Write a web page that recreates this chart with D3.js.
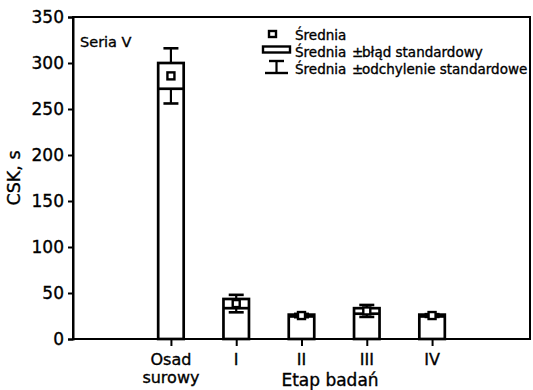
<!DOCTYPE html>
<html>
<head>
<meta charset="utf-8">
<script src="https://cdn.jsdelivr.net/npm/d3@7"></script>
<style>
  html, body { margin: 0; padding: 0; background: #fff; }
  svg { display: block; }
  text { font-family: "DejaVu Sans", "Liberation Sans", Arial, sans-serif; fill: #000; stroke: #000; stroke-width: 0.35px; }
</style>
</head>
<body>
<svg id="chart" width="533" height="390"></svg>
<script>
// Stages of the study and CSK statistics for each one
const categories = ["Osad surowy", "I", "II", "III", "IV"];
const means  = [286, 38.5, 25.5, 30.5, 25.5];   // średnia
const stdErr = [14, 5, 1, 3, 1];                // błąd standardowy
const stdDev = [30, 9.5, 1.8, 6.5, 1.5];        // odchylenie standardowe
const yTicks = [0, 50, 100, 150, 200, 250, 300, 350];

const svg = d3.select("#chart");
const plot = { left: 73, right: 530, top: 17, bottom: 339 };

const x = d3.scaleLinear().domain([-1.5, categories.length + 0.5]).range([plot.left, plot.right]);
const y = d3.scaleLinear().domain([0, 350]).range([plot.bottom, plot.top]);

const boxW = 25.5, capW = 15, markerS = 7, thick = 2.7;

// Frame
svg.append("rect")
  .attr("x", plot.left).attr("y", plot.top)
  .attr("width", plot.right - plot.left).attr("height", plot.bottom - plot.top)
  .attr("fill", "none").attr("stroke", "#000").attr("stroke-width", 2);

// Y axis
const yAxis = d3.axisLeft(y).tickValues(yTicks).tickSize(5).tickPadding(4).tickFormat(d3.format("d"));
const gy = svg.append("g").attr("transform", `translate(${plot.left},0)`).call(yAxis);
gy.select(".domain").attr("stroke-width", 2);
gy.selectAll(".tick line").attr("stroke-width", 2);
gy.selectAll(".tick text").attr("font-size", 17).attr("font-family", null).attr("fill", "#000");

// X axis
const xAxis = d3.axisBottom(x).tickValues(d3.range(categories.length)).tickSize(7).tickFormat(() => "");
const gx = svg.append("g").attr("transform", `translate(0,${plot.bottom})`).call(xAxis);
gx.select(".domain").remove();
gx.selectAll(".tick line").attr("stroke-width", 2);

// Category labels (split onto two lines where needed)
categories.forEach((c, i) => {
  c.split(" ").forEach((part, j) => {
    svg.append("text")
      .attr("x", x(i)).attr("y", 365 + j * 18)
      .attr("text-anchor", "middle")
      .attr("font-size", 16)
      .text(part);
  });
});

// Axis titles
svg.append("text")
  .attr("x", 330).attr("y", 386)
  .attr("text-anchor", "middle").attr("font-size", 17)
  .text("Etap badań");

svg.append("text")
  .attr("transform", `translate(20,${178}) rotate(-90)`)
  .attr("text-anchor", "middle").attr("font-size", 17.5)
  .text("CSK, s");

svg.append("text")
  .attr("x", 80).attr("y", 47)
  .attr("font-size", 14.5)
  .text("Seria V");

// Columns: outline from 0 to mean+SE, line at mean−SE, whiskers at mean±SD, mean marker
const g = svg.append("g").attr("stroke", "#000").attr("fill", "none");
categories.forEach((c, i) => {
  const cx = x(i);
  const m = means[i], se = stdErr[i], sd = stdDev[i];
  // whiskers
  g.append("line").attr("x1", cx).attr("x2", cx).attr("y1", y(m + se)).attr("y2", y(m + sd)).attr("stroke-width", 2.2);
  g.append("line").attr("x1", cx - capW / 2).attr("x2", cx + capW / 2).attr("y1", y(m + sd)).attr("y2", y(m + sd)).attr("stroke-width", 2.6);
  g.append("line").attr("x1", cx).attr("x2", cx).attr("y1", y(m - se)).attr("y2", y(m - sd)).attr("stroke-width", 2.2);
  g.append("line").attr("x1", cx - capW / 2).attr("x2", cx + capW / 2).attr("y1", y(m - sd)).attr("y2", y(m - sd)).attr("stroke-width", 2.6);
  // column outline
  g.append("rect")
    .attr("x", cx - boxW / 2).attr("y", y(m + se))
    .attr("width", boxW).attr("height", y(0) - y(m + se))
    .attr("fill", "none").attr("stroke-width", thick);
  g.append("line")
    .attr("x1", cx - boxW / 2).attr("x2", cx + boxW / 2)
    .attr("y1", y(m - se)).attr("y2", y(m - se)).attr("stroke-width", thick);
  // mean marker
  g.append("rect")
    .attr("x", cx - markerS / 2).attr("y", y(m) - markerS / 2)
    .attr("width", markerS).attr("height", markerS)
    .attr("fill", "#fff").attr("stroke-width", 2.4);
});

// Legend
const lg = svg.append("g");
const lx = 295, lyRows = [40, 57, 74];
lg.append("rect").attr("x", 269).attr("y", 31).attr("width", 7).attr("height", 6)
  .attr("fill", "#fff").attr("stroke", "#000").attr("stroke-width", 2.4);
lg.append("rect").attr("x", 263).attr("y", 46.5).attr("width", 27).attr("height", 6)
  .attr("fill", "#fff").attr("stroke", "#000").attr("stroke-width", 2.4);
lg.append("line").attr("x1", 269).attr("x2", 284).attr("y1", 61).attr("y2", 61).attr("stroke", "#000").attr("stroke-width", 2.4);
lg.append("line").attr("x1", 276.5).attr("x2", 276.5).attr("y1", 61).attr("y2", 73).attr("stroke", "#000").attr("stroke-width", 2.2);
lg.append("line").attr("x1", 265).attr("x2", 288).attr("y1", 73).attr("y2", 73).attr("stroke", "#000").attr("stroke-width", 2.4);

const legendLabels = [
  ["Średnia"],
  ["Średnia", "±", "błąd standardowy"],
  ["Średnia", "±", "odchylenie standardowe"]
];
const partX = [lx, 352, 362];
legendLabels.forEach((parts, r) => {
  const t = lg.append("text").attr("y", lyRows[r]).attr("font-size", 13.5);
  parts.forEach((p, k) => t.append("tspan").attr("x", partX[k]).text(p));
});
</script>
</body>
</html>
